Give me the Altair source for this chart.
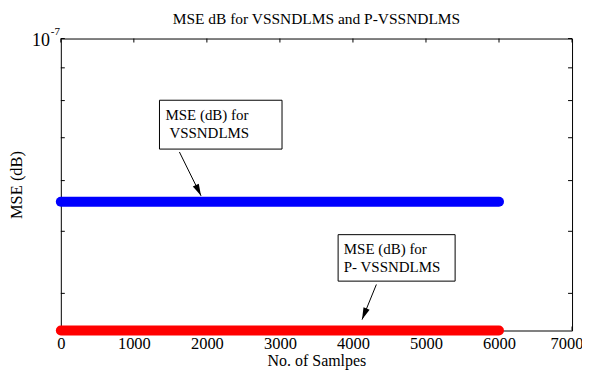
import altair as alt
import pandas as pd

# ---- data ----
x_ticks = [0, 1000, 2000, 3000, 4000, 5000, 6000, 7000]
y_ticks = [4e-8, 5e-8, 6e-8, 7e-8, 8e-8, 9e-8, 1e-7]
y_domain = [3.5e-8, 1e-7]
x_domain = [0, 7000]

samples = [0, 6000]
mse_vssndlms = [5.56e-8, 5.56e-8]
mse_pvssndlms = [3.5e-8, 3.5e-8]
series_names = ["VSSNDLMS", "P-VSSNDLMS"]
series_colors = ["#0000FF", "#FF0000"]

# annotation boxes (data coordinates)
box_x = [1351, 3797]
box_x2 = [3029, 5399]
box_y = [8.01e-8, 4.94e-8]
box_y2 = [6.72e-8, 4.18e-8]

# annotation texts
ann_text = ["MSE (dB) for", "VSSNDLMS", "MSE (dB) for", "P- VSSNDLMS"]
ann_x = [1433, 1487, 3875, 3875]
ann_y = [7.59e-8, 7.12e-8, 4.69e-8, 4.39e-8]

# arrows: start -> tip
arr_x = [1624, 4321]
arr_y = [6.65e-8, 4.13e-8]
arr_x2 = [1920, 4125]
arr_y2 = [5.68e-8, 3.64e-8]
arr_angle = [154, 202]

FONT = "Liberation Serif"
W, H = 513, 293

xscale = alt.Scale(domain=x_domain, nice=False, zero=False)
yscale = alt.Scale(type="log", domain=y_domain, nice=False)

xaxis = alt.Axis(values=x_ticks, format="d", tickSize=0, domain=False, grid=False, labelPadding=5,
                 labelAlign={"condition": {"test": "datum.value == 7000", "value": "right"}, "value": "center"},
                 labelOffset={"condition": {"test": "datum.value == 7000", "value": 11}, "value": 0},
                 title="No. of Samlpes", titlePadding=1, labelFlush=False, labelOverlap=False,
                 labelFont=FONT, labelFontSize=16.5, labelColor="black",
                 titleFont=FONT, titleFontSize=16, titleFontWeight="normal", titleColor="black")
yaxis = alt.Axis(values=y_ticks, labels=False, ticks=False, domain=False, grid=False,
                 title="MSE (dB)", titleX=-44, titleY=H / 2, titleAngle=-90,
                 titleAlign="center", titleBaseline="middle",
                 titleFont=FONT, titleFontSize=16.5, titleFontWeight="normal", titleColor="black")


def X(field="x"):
    return alt.X(f"{field}:Q", scale=xscale, axis=xaxis, title="No. of Samlpes")


def Y(field="y"):
    return alt.Y(f"{field}:Q", scale=yscale, axis=yaxis, title="MSE (dB)")


lines_df = pd.DataFrame({
    "x": samples + samples,
    "y": mse_vssndlms + mse_pvssndlms,
    "series": [series_names[0]] * len(samples) + [series_names[1]] * len(samples),
})

lines = alt.Chart(lines_df).mark_line(strokeWidth=10, strokeCap="round", clip=False).encode(
    x=X(), y=Y(),
    color=alt.Color("series:N", scale=alt.Scale(domain=series_names, range=series_colors), legend=None),
    detail="series:N",
)

xt = pd.DataFrame({"x": x_ticks})
yt = pd.DataFrame({"y": y_ticks})
tick_style = dict(color="black", strokeWidth=1)
xtick_b = alt.Chart(xt).mark_rule(**tick_style).encode(x=X(), y=alt.value(H), y2=alt.value(H - 4))
xtick_t = alt.Chart(xt).mark_rule(**tick_style).encode(x=X(), y=alt.value(0), y2=alt.value(4))
ytick_l = alt.Chart(yt).mark_rule(**tick_style).encode(y=Y(), x=alt.value(0), x2=alt.value(4))
ytick_r = alt.Chart(yt).mark_rule(**tick_style).encode(y=Y(), x=alt.value(W), x2=alt.value(W - 4))

boxes = alt.Chart(pd.DataFrame({"x": box_x, "x2": box_x2, "y": box_y, "y2": box_y2})).mark_rect(
    fill="white", stroke="black", strokeWidth=1).encode(x=X(), x2="x2:Q", y=Y(), y2="y2:Q")

texts = alt.Chart(pd.DataFrame({"x": ann_x, "y": ann_y, "t": ann_text})).mark_text(
    align="left", baseline="middle", font=FONT, fontSize=15, color="black").encode(
    x=X(), y=Y(), text="t:N")

arrows = alt.Chart(pd.DataFrame({"x": arr_x, "y": arr_y, "x2": arr_x2, "y2": arr_y2})).mark_rule(
    color="black", strokeWidth=1).encode(x=X(), x2="x2:Q", y=Y(), y2="y2:Q")

heads = alt.Chart(pd.DataFrame({"x": arr_x2, "y": arr_y2, "a": arr_angle})).mark_point(
    shape="M0,0L0.55,2L-0.55,2Z", filled=True, size=144, color="black", opacity=1, strokeWidth=0).encode(
    x=X(), y=Y(), angle=alt.Angle("a:Q", scale=None))

top_df = pd.DataFrame({"y": [y_domain[1]], "base": ["10"], "exp": ["-7"]})
base_lbl = alt.Chart(top_df).mark_text(align="right", baseline="middle", font=FONT, fontSize=18,
                                       color="black", dy=2).encode(
    x=alt.value(-11), y=Y(), text="base:N")
exp_lbl = alt.Chart(top_df).mark_text(align="left", baseline="middle", font=FONT, fontSize=11,
                                      color="black", dy=-7).encode(
    x=alt.value(-10), y=Y(), text="exp:N")

chart = alt.layer(
    xtick_b, xtick_t, ytick_l, ytick_r, lines, arrows, heads, boxes, texts, base_lbl, exp_lbl
).properties(
    width=W, height=H,
    title=alt.TitleParams("MSE dB for VSSNDLMS and P-VSSNDLMS", font=FONT, fontSize=15.5,
                          fontWeight="normal", anchor="middle", color="black", offset=-2),
    autosize=alt.AutoSizeParams(type="none"),
    padding={"left": 53, "top": 30, "right": 10, "bottom": 40},
    background="white",
).configure_view(stroke="black", strokeWidth=1).configure_axis(
    labelFont=FONT, titleFont=FONT, titleFontWeight="normal", labelColor="black", titleColor="black")

chart.save("out.html", embed_options={"renderer": "svg", "actions": False})
